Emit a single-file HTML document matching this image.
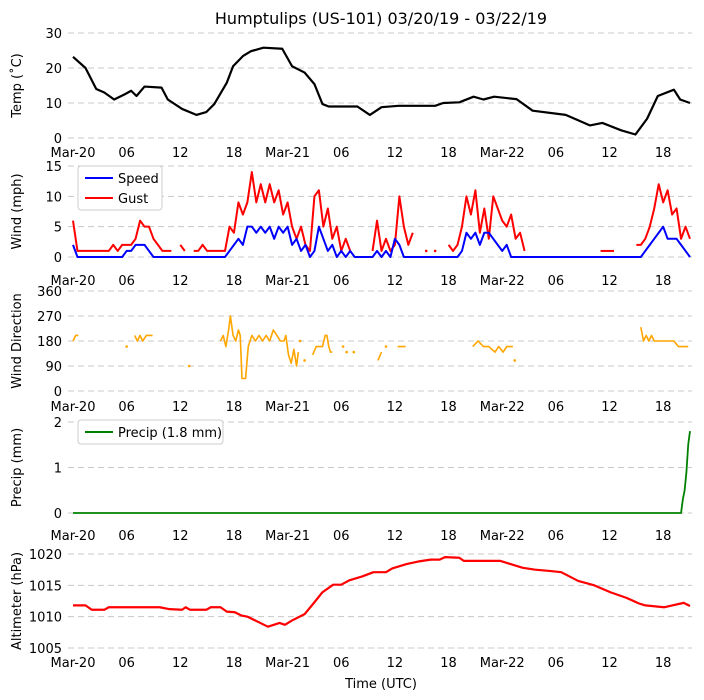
<!DOCTYPE html>
<html><head><meta charset="utf-8"><style>
body{margin:0;background:#fff;}
svg{display:block;font-family:"DejaVu Sans","Liberation Sans",sans-serif;}
</style></head><body>
<svg id="chart" width="704" height="700" viewBox="0 0 704 700" xmlns="http://www.w3.org/2000/svg">
<text x="381" y="24" font-size="16" text-anchor="middle">Humptulips (US-101) 03/20/19 - 03/22/19</text>
<text x="381" y="688" font-size="13" text-anchor="middle">Time (UTC)</text>
</svg>
<script>
const tempTimes=[0,1.4,2.6,3.5,4.6,5.8,6.5,7.1,8,9.9,10.6,12.2,13.8,14.9,15.8,17.2,17.9,19,19.9,21.3,23.4,24.5,25.9,27,27.9,28.6,31.8,33.2,34.5,36.4,40.5,41.4,43.2,44.8,45.9,47.1,49.6,51.4,55.1,57.8,59.2,61.3,62.9,64.2,65.4,67.2,67.9,69];
const tempVals=[23.2,20,14,13,11,12.5,13.5,12,14.7,14.4,11,8.3,6.6,7.4,9.7,15.8,20.5,23.4,24.8,25.8,25.5,20.5,18.7,15.4,9.7,9,9,6.6,8.8,9.2,9.2,10,10.2,11.8,11,11.8,11.1,7.8,6.6,3.6,4.3,2.2,1,5.5,12,13.8,11,10];
// half-hourly, index i -> hour i/2
const gustVals=[6,1,1,1,1,1,1,1,1,2,1,2,2,2,3,6,5,5,3,2,1,1,1,null,2,1,null,1,1,2,1,1,1,1,1,5,4,9,7,9,14,9,12,9,12,9,11,7,9,5,3,5,2,1,10,11,5,8,3,5,1,3,1,null,null,null,null,1,6,1,3,1,2,10,5,2,4,null,null,1,null,1,null,null,2,1,2,5,10,7,11,4,8,3,10,8,6,5,7,3,4,1,
null,null,null,null,null,null,null,null,null,null,null,null,null,null,null,null,1,1,1,1,null,null,null,null,2,2,3,5,8,12,9,11,7,8,3,5,3];
const speedVals=[2,0,0,0,0,0,0,0,0,0,0,0,1,1,2,2,2,1,0,0,0,0,0,0,0,0,0,0,0,0,0,0,0,0,0,1,2,3,2,5,5,4,5,4,5,3,5,4,5,2,3,1,2,0,1,5,3,1,2,0,1,0,1,0,0,0,0,0,1,0,1,0,3,2,0,0,0,0,0,0,0,0,0,0,0,0,0,1,4,3,4,2,4,4,3,2,1,2,0,0,
0,0,0,0,0,0,0,0,0,0,0,0,0,0,0,0,0,0,0,0,0,0,0,0,0,0,0,0,1,2,3,4,5,3,3,3,2,1,0,1];
const dirTimes=[0,0.3,0.6,null,6,null,6.9,7.2,7.5,7.8,8.2,8.6,8.9,null,13,null,16.5,16.8,17.1,17.4,17.6,17.9,18.2,18.5,18.7,18.9,19.3,19.6,20,20.4,20.8,21.2,21.6,22,22.4,22.8,23.2,23.6,23.8,24.1,24.4,24.7,25,25.2,null,25.4,null,25.9,null,26.8,27.2,27.5,27.9,28.2,28.4,28.6,28.8,29,null,30.2,null,30.6,null,31.4,null,34.1,34.5,null,35,null,36.3,36.7,37.2,null,44.7,45.3,45.9,46.5,47.2,47.6,48.1,48.5,49.2,null,49.4,null,63.5,63.8,64.1,64.4,64.7,65,65.5,66,66.6,67.2,67.7,68.2,68.8];
const dirVals=[180,200,200,null,160,null,200,180,200,180,200,200,200,null,90,null,180,200,160,220,270,200,180,220,200,45,45,160,200,180,200,180,200,180,220,200,180,180,200,130,100,150,90,140,null,180,null,110,null,130,160,160,160,200,200,160,140,140,null,160,null,140,null,140,null,110,140,null,160,null,160,160,160,null,160,180,160,160,140,160,140,160,160,null,110,null,230,180,200,180,200,180,180,180,180,180,160,160,160,180];
const precipTimes=[0,66.6,68,68.2,68.4,68.6,68.8,69];
const precipVals=[0,0,0,0.3,0.5,0.9,1.5,1.8];
const altTimes=[0,1.4,2.1,3.5,4,9.7,10.8,12.2,12.6,13.1,14.9,15.4,16.5,17.2,18.1,18.8,19.5,20.8,21.8,23.1,23.7,24.5,25.9,27,27.9,29.1,30,30.9,32.3,33.6,35,35.7,37.3,38.6,40,41,41.6,43.2,43.7,47.8,48.7,50.3,51.7,53.3,54.6,56.5,58.3,60.1,61.9,63.3,64,66.1,67,68.3,69];
const altVals=[1011.8,1011.8,1011.1,1011.1,1011.5,1011.5,1011.2,1011.1,1011.5,1011.1,1011.1,1011.5,1011.5,1010.8,1010.7,1010.2,1010.0,1009.1,1008.4,1009.0,1008.7,1009.4,1010.4,1012.3,1013.9,1015.1,1015.1,1015.8,1016.4,1017.1,1017.1,1017.7,1018.4,1018.8,1019.1,1019.1,1019.5,1019.4,1018.9,1018.9,1018.5,1017.8,1017.5,1017.3,1017.1,1015.7,1015.0,1013.9,1013.0,1012.1,1011.8,1011.5,1011.8,1012.2,1011.7];
const xTickHours=[0,6,12,18,24,30,36,42,48,54,60,66];
const xTickLabels=["Mar-20","06","12","18","Mar-21","06","12","18","Mar-22","06","12","18"];
const tempTicks=[0,10,20,30],windTicks=[0,5,10,15],dirTicks=[0,90,180,270,360],precipTicks=[0,1,2],altTicks=[1005,1010,1015,1020];

const svg=document.getElementById('chart');
const NS='http://www.w3.org/2000/svg';
const xS=h=>73+h*(617/69);
function mk(tag,attrs,parent){const e=document.createElementNS(NS,tag);for(const k in attrs)e.setAttribute(k,attrs[k]);(parent||svg).appendChild(e);return e;}
function panel(name,yTop,yBot,vMin,vMax,ticks,title,labelY){
  const g=mk('g',{});
  
  
  const yS=v=>yBot-(v-vMin)/(vMax-vMin)*(yBot-yTop);
  ticks.forEach(t=>{
    const l=mk('line',{x1:68,x2:692,y1:yS(t),y2:yS(t),stroke:'#c8c8c8','stroke-dasharray':'6,4','stroke-width':1},g);
    
    
    const tx=mk('text',{x:62,y:yS(t)+5,'font-size':13,'text-anchor':'end'},g);
    tx.textContent=t;
    
    
  });
  xTickHours.forEach((h,i)=>{
    const tx=mk('text',{x:xS(h),y:labelY,'font-size':13,'text-anchor':'middle'},g);
    tx.textContent=xTickLabels[i];
    
    
  });
  const yc=(yTop+yBot)/2;
  const at=mk('text',{x:21,y:yc,'font-size':13,'text-anchor':'middle',transform:`rotate(-90 21 ${yc})`},g);
  at.textContent=title;
  
  
  return {g,yS};
}
function series(p,name,times,vals,color,w){
  let segs=[],cur=[];
  for(let i=0;i<vals.length;i++){
    if(vals[i]===null||times[i]===null){if(cur.length)segs.push(cur);cur=[];continue;}
    cur.push([xS(times[i]),p.yS(vals[i])]);
  }
  if(cur.length)segs.push(cur);
  segs.forEach(s=>{
    if(s.length===1){
      const c=mk('circle',{cx:s[0][0],cy:s[0][1],r:1.3,fill:color},p.g);
      
      
    }else{
      const l=mk('polyline',{points:s.map(q=>q.join(',')).join(' '),fill:'none',stroke:color,'stroke-width':w,'stroke-linejoin':'round'},p.g);
      
      
    }
  });
}
const halfT=gustVals.map((_,i)=>i/2);
const p1=panel('temp',33,138,0,30,tempTicks,'Temp (˚C)',157);
series(p1,'temp',tempTimes,tempVals,'#000',2.2);
const p2=panel('wind',166,257,0,15,windTicks,'Wind (mph)',285);
series(p2,'gust',halfT,gustVals,'#ff0000',2);
series(p2,'speed',halfT,speedVals,'#0000ff',2);
const p3=panel('direction',291,391,0,360,dirTicks,'Wind Direction',411);
series(p3,'direction',dirTimes,dirVals,'#ffa500',1.6);
const p4=panel('precip',422,513,0,2,precipTicks,'Precip (mm)',540);
series(p4,'precip',precipTimes,precipVals,'#008000',1.8);
const p5=panel('altimeter',554,648,1005,1020,altTicks,'Altimeter (hPa)',667);
series(p5,'altimeter',altTimes,altVals,'#ff0000',2.2);

function legend(name,x,y,w,items){
  const g=mk('g',{});
  
  
  mk('rect',{x:x,y:y,width:w,height:items.length*20+4,fill:'#fff',stroke:'#ccc',rx:3},g);
  items.forEach((it,i)=>{
    const yy=y+12+i*20;
    mk('line',{x1:x+7,x2:x+35,y1:yy,y2:yy,stroke:it[1],'stroke-width':2},g);
    const t=mk('text',{x:x+40,y:yy+5,'font-size':13},g);
    t.textContent=it[0];
    
    
  });
}
legend('wind-legend',78,166,84,[['Speed','#0000ff'],['Gust','#ff0000']]);
legend('precip-legend',78,420,145,[['Precip (1.8 mm)','#008000']]);
</script>
</body></html>
